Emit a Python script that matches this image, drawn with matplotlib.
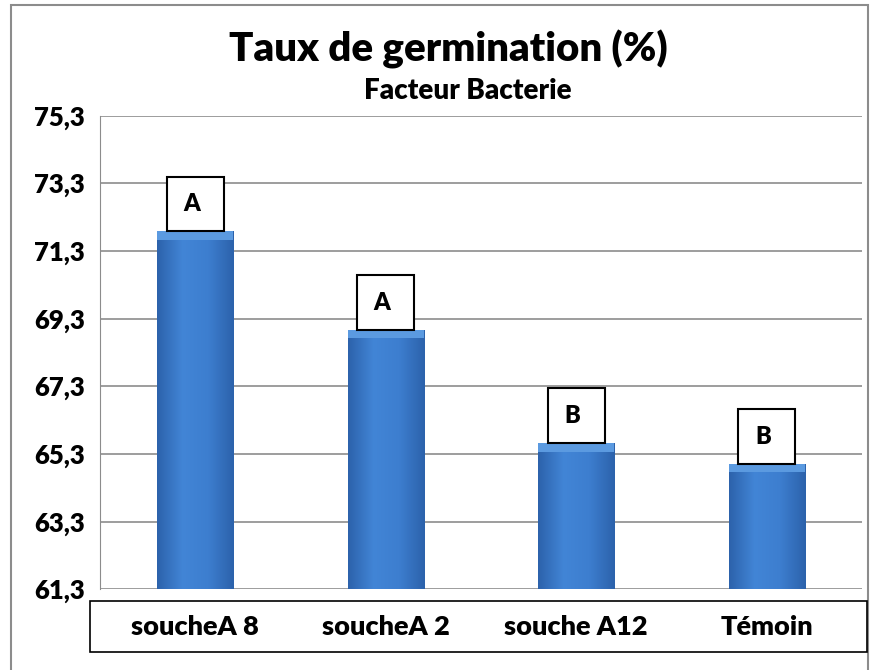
import numpy as np
import matplotlib
matplotlib.use("Agg")
from matplotlib import pyplot as plt
from matplotlib.patches import Rectangle
from matplotlib.colors import LinearSegmentedColormap
from matplotlib.transforms import blended_transform_factory

categories = ["soucheA 8", "soucheA 2", "souche A12", "Témoin"]
values = [71.88, 68.97, 65.62, 65.01]
groups = ["A", "A", "B", "B"]
yticks = [61.3, 63.3, 65.3, 67.3, 69.3, 71.3, 73.3, 75.3]

plt.rcParams["font.family"] = ["Lato", "DejaVu Sans"]
plt.rcParams["font.weight"] = "heavy"
WT = "heavy"

W, H = 879, 670
fig = plt.figure(figsize=(W / 100, H / 100), dpi=100)

# frame around the whole chart
fig.patches.append(Rectangle((11 / W, -0.05), 857 / W, 1.05 - 5 / H,
                             transform=fig.transFigure, fill=False,
                             edgecolor="#8c8c8c", lw=1.5))

ax = fig.add_axes([100 / W, (H - 589.3) / H, 762 / W, (589.3 - 115.7) / H])
x = np.arange(len(categories))
bars = ax.bar(x, values, width=0.4, bottom=0, color="#3a78c8", zorder=3)

ax.set_ylim(61.3, 75.3)
ax.set_xlim(-0.5, 3.5)
ax.set_yticks(yticks)
ax.set_yticklabels([f"{t:.1f}".replace(".", ",") for t in yticks], fontsize=18.5, fontweight=WT)
ax.tick_params(axis="y", length=0, pad=11)
ax.set_xticks([])
ax.grid(axis="y", color="#8c8c8c", lw=1.2, zorder=0)
for s in ["top", "right", "bottom"]:
    ax.spines[s].set_visible(False)
ax.spines["left"].set_color("#8c8c8c")

# horizontal shading inside the bars
cmap = LinearSegmentedColormap.from_list("bar", ["#2c62ab", "#4285d6", "#3d7ecf", "#2c62ab"])
grad = np.linspace(0, 1, 256).reshape(1, -1)
for b in bars:
    x0, w, h = b.get_x(), b.get_width(), b.get_height()
    im = ax.imshow(grad, cmap=cmap, aspect="auto", extent=[x0, x0 + w, 61.3, h],
                   zorder=4, clip_on=True)
    im.set_clip_path(b)
    ax.add_patch(Rectangle((x0, h - 0.25), w, 0.25, color="#5b9ae0", zorder=5, lw=0))
ax.set_xlim(-0.5, 3.5)
ax.set_ylim(61.3, 75.3)

# letter boxes above bars
for xi, v, g in zip(x, values, groups):
    ax.add_patch(Rectangle((xi - 0.15, v), 0.3, 1.62, facecolor="white",
                           edgecolor="black", lw=1.5, zorder=6, clip_on=False))
    ax.text(xi - 0.02, v + 0.8, g, ha="center", va="center", fontsize=17,
            fontweight=WT, zorder=7)

# category labels in a box below the axis
fig.patches.append(Rectangle((90 / W, (H - 652) / H), 777 / W, 51 / H,
                             transform=fig.transFigure, fill=False,
                             edgecolor="black", lw=1.2))
trans = blended_transform_factory(ax.transData, fig.transFigure)
for xi, c in zip(x, categories):
    ax.text(xi, (H - 627) / H, c, transform=trans, ha="center", va="center",
            fontsize=19.5, fontweight=WT)

fig.text(448 / W, (H - 49) / H, "Taux de germination (%)", ha="center", va="center",
         fontsize=29, fontweight=WT)
fig.text(468 / W, (H - 91) / H, "Facteur Bacterie", ha="center", va="center",
         fontsize=20, fontweight=WT)

fig.savefig("out.png", dpi=100)
